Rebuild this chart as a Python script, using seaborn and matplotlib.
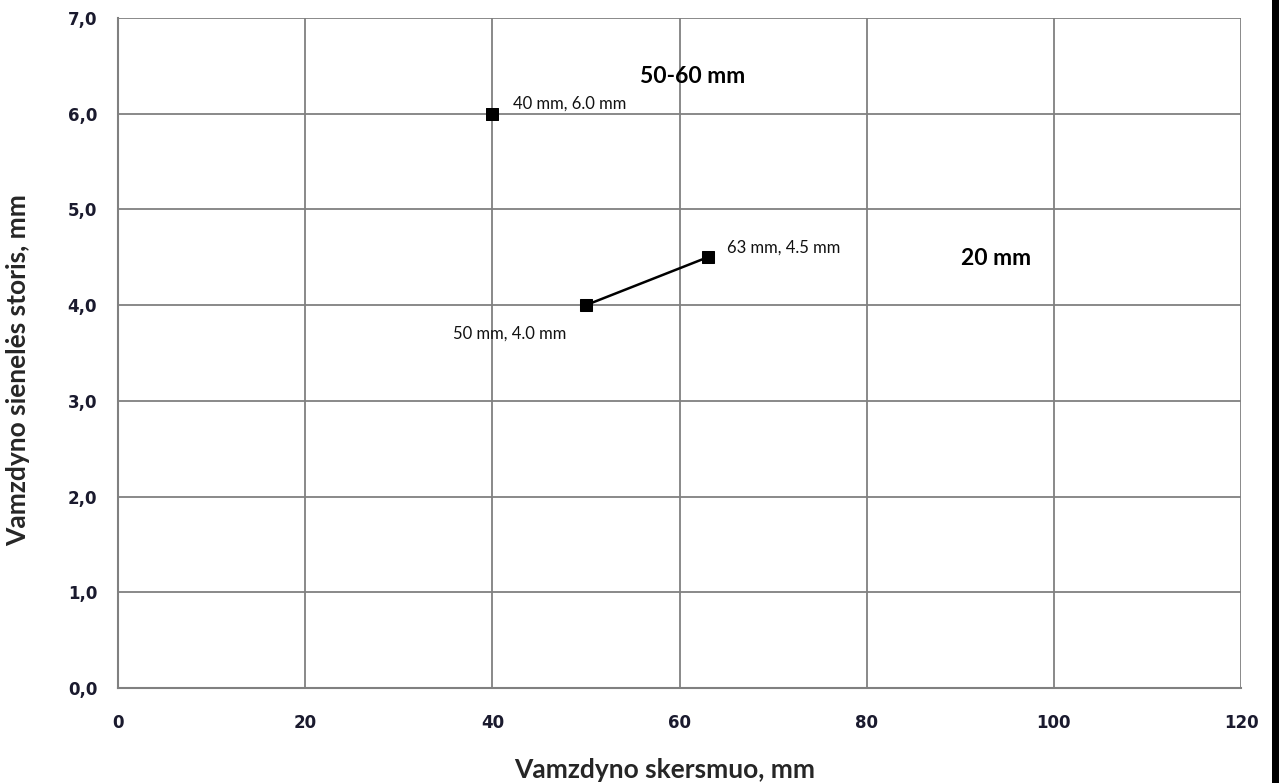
import matplotlib
matplotlib.use("Agg")
import matplotlib.pyplot as plt
import matplotlib.patches as mpatches
import seaborn as sns
import pandas as pd

# duomenys
skersmuo_linija = [50, 63]
storis_linija = [4.0, 4.5]
skersmuo_taskas = [40]
storis_taskas = [6.0]
taskai_etiketes = ["50 mm, 4.0 mm", "63 mm, 4.5 mm", "40 mm, 6.0 mm"]
grupes = ["50-60 mm", "20 mm"]
grupes_x = [61.4, 93.8]
grupes_y = [6.39, 4.49]
x_ticks = [0, 20, 40, 60, 80, 100, 120]
y_ticks = [0, 1, 2, 3, 4, 5, 6, 7]

df_linija = pd.DataFrame({"d": skersmuo_linija, "s": storis_linija})
df_taskas = pd.DataFrame({"d": skersmuo_taskas, "s": storis_taskas})

sns.set_theme(style="white")
plt.rcParams['font.family'] = ['DejaVu Sans']

fig = plt.figure(figsize=(12.82, 7.83), dpi=100)
W, H = 1282, 783
ax = fig.add_axes([118 / W, 1 - 688 / H, (1241 - 118) / W, (688 - 18) / H])

sns.lineplot(data=df_linija, x="d", y="s", ax=ax, color="black", lw=1.8,
             marker="s", markersize=9, markeredgecolor="black", zorder=5)
sns.scatterplot(data=df_taskas, x="d", y="s", ax=ax, color="black", marker="s",
                s=80, edgecolor="black", zorder=5)

ax.set_xlim(0, 120)
ax.set_ylim(0, 7)
ax.set_xticks(x_ticks)
ax.set_yticks(y_ticks)
ax.set_xticklabels([str(v) for v in x_ticks])
ax.set_yticklabels([f"{v:.1f}".replace(".", ",") for v in y_ticks])
ax.grid(True, color="#808080", lw=1.3)
ax.set_axisbelow(True)
for side in ["top", "right"]:
    ax.spines[side].set_visible(False)
for side in ["left", "bottom"]:
    ax.spines[side].set_color("#808080")
    ax.spines[side].set_linewidth(1.5)
ax.tick_params(axis="both", which="both", direction="out", length=6, width=1.3,
               color="#808080", labelsize=12, labelcolor="#1a1a2e")
ax.tick_params(axis="x", pad=13)
ax.tick_params(axis="y", pad=9)
for lab in ax.get_xticklabels() + ax.get_yticklabels():
    lab.set_fontweight("bold")

ax.set_xlabel("Vamzdyno skersmuo, mm", fontsize=19, fontweight="bold",
              family="Lato")
ax.set_ylabel("Vamzdyno sienelės storis, mm", fontsize=19, fontweight="bold",
              family="Lato")
ax.xaxis.set_label_coords(0.487, -0.105)
ax.yaxis.set_label_coords(-0.078, 0.475)

# taškų etiketės
ax.annotate(taskai_etiketes[0], (skersmuo_linija[0], storis_linija[0]),
            xytext=(-20, -28), textcoords="offset pixels", ha="right",
            va="center", fontsize=12, family="Lato", color="#111111")
ax.annotate(taskai_etiketes[1], (skersmuo_linija[1], storis_linija[1]),
            xytext=(19, 10), textcoords="offset pixels", ha="left",
            va="center", fontsize=12, family="Lato", color="#111111")
ax.annotate(taskai_etiketes[2], (skersmuo_taskas[0], storis_taskas[0]),
            xytext=(21, 10), textcoords="offset pixels", ha="left",
            va="center", fontsize=12, family="Lato", color="#111111")

for g, gx, gy in zip(grupes, grupes_x, grupes_y):
    ax.text(gx, gy, g, ha="center", va="center", fontsize=16.5,
            fontweight="bold", family="Lato", color="black")

# dešinysis kraštas (apkarpytas)
fig.patches.append(mpatches.Rectangle((1263 / W, 0), 11 / W, 1, transform=fig.transFigure,
                                      facecolor="white", edgecolor="none", zorder=10))
fig.patches.append(mpatches.Rectangle((1272 / W, 0), 7 / W, 1, transform=fig.transFigure,
                                      facecolor="black", edgecolor="none", zorder=11))

fig.savefig("out.png", dpi=100)
